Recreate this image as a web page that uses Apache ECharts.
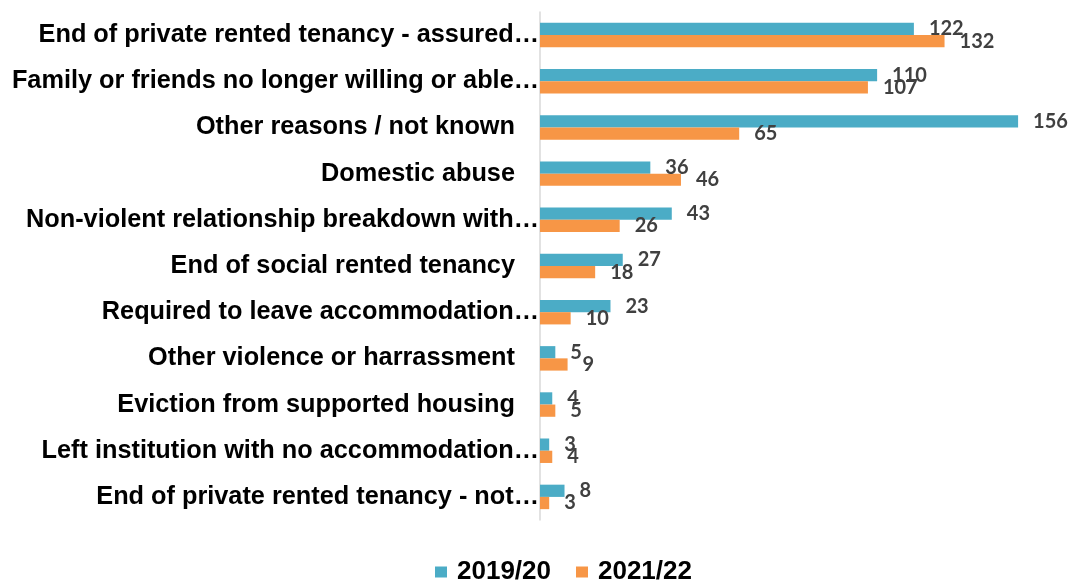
<!DOCTYPE html>
<html>
<head>
<meta charset="utf-8">
<script src="https://cdn.jsdelivr.net/npm/echarts@6/dist/echarts.min.js"></script>
<style>
html,body{margin:0;padding:0;background:#fff;}
#chart{width:1069px;height:581px;}
</style>
</head>
<body>
<div id="chart"></div>
<script>
var categories = [
  "End of private rented tenancy - assured\u2026",
  "Family or friends no longer willing or able\u2026",
  "Other reasons / not known",
  "Domestic abuse",
  "Non-violent relationship breakdown with\u2026",
  "End of social rented tenancy",
  "Required to leave accommodation\u2026",
  "Other violence or harrassment",
  "Eviction from supported housing",
  "Left institution with no accommodation\u2026",
  "End of private rented tenancy - not\u2026"
];
var seriesNames = ["2019/20", "2021/22"];
var values2019 = [122, 110, 156, 36, 43, 27, 23, 5, 4, 3, 8];
var values2021 = [132, 107, 65, 46, 26, 18, 10, 9, 5, 4, 3];

var chart = echarts.init(document.getElementById('chart'));
var labelStyle = {
  show: true,
  position: 'right',
  distance: 15,
  fontFamily: 'Lato',
  fontWeight: 'bold',
  fontSize: 20,
  color: '#404040'
};
chart.setOption({
  animation: false,
  grid: {left: 540, right: 8, top: 12, bottom: 61, containLabel: false},
  legend: {
    data: seriesNames,
    top: 554,
    left: 430,
    icon: 'rect',
    itemWidth: 12,
    itemHeight: 11,
    itemGap: 25,
    textStyle: {fontFamily: 'Liberation Sans', fontWeight: 'bold', fontSize: 26, color: '#000', padding: [0, 0, 0, 5]}
  },
  xAxis: {
    type: 'value',
    min: 0,
    max: 170,
    show: false,
    splitLine: {show: false}
  },
  yAxis: {
    type: 'category',
    data: categories,
    inverse: true,
    axisLine: {show: true, lineStyle: {color: '#d9d9d9', width: 1.5}},
    axisTick: {show: false},
    axisLabel: {
      margin: 1,
      formatter: function (v) {
        return v.charAt(v.length - 1) === '\u2026' ? '{t|' + v + '}' : '{n|' + v + '}';
      },
      rich: {
        t: {fontFamily: 'Liberation Sans', fontWeight: 'bold', fontSize: 25.3, color: '#000'},
        n: {fontFamily: 'Liberation Sans', fontWeight: 'bold', fontSize: 25.3, color: '#000', padding: [0, 24, 0, 0]}
      }
    }
  },
  series: [
    {name: seriesNames[0], type: 'bar', data: values2019, barGap: '0%', barCategoryGap: '47%',
     itemStyle: {color: '#4BACC6'}, label: labelStyle},
    {name: seriesNames[1], type: 'bar', data: values2021, barGap: '0%', barCategoryGap: '47%',
     itemStyle: {color: '#F79646'}, label: labelStyle}
  ]
});
</script>
</body>
</html>
